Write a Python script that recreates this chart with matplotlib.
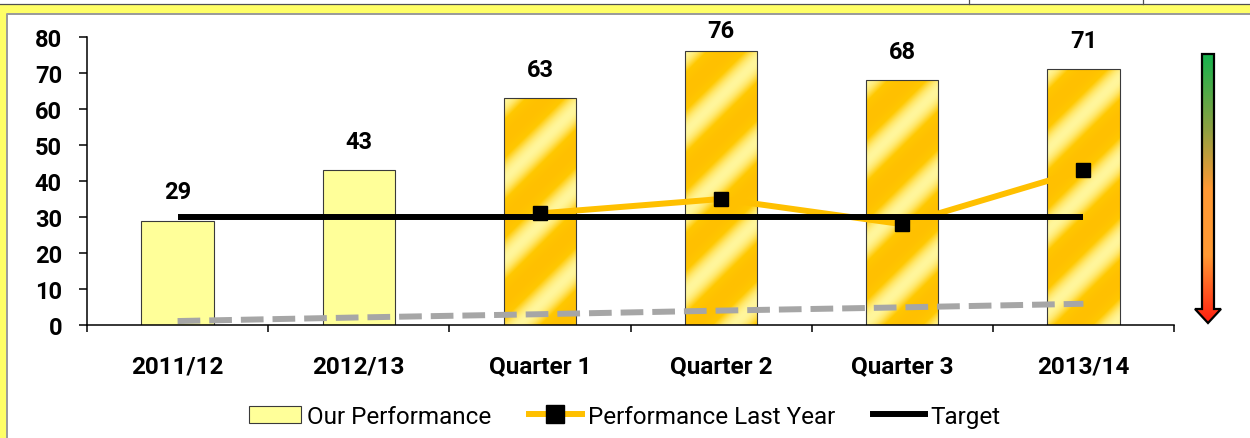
import numpy as np
import matplotlib.pyplot as plt
from matplotlib.colors import LinearSegmentedColormap
from matplotlib.patches import Rectangle, Polygon, Patch
from matplotlib.lines import Line2D

plt.rcParams["font.family"] = ["Roboto", "DejaVu Sans"]

categories = ["2011/12", "2012/13", "Quarter 1", "Quarter 2", "Quarter 3", "2013/14"]
our_performance = [29, 43, 63, 76, 68, 71]
last_year = [np.nan, np.nan, 31, 35, 28, 43]
target = [30, 30, 30, 30, 30, 30]
trend = [1.1, 2.1, 3.0, 4.0, 4.9, 5.9]
quarterly = [False, False, True, True, True, True]
y_ticks = [0, 10, 20, 30, 40, 50, 60, 70, 80]

W, H = 1250, 439
fig = plt.figure(figsize=(W / 100, H / 100), dpi=100)

# frame drawn in pixel space
bg = fig.add_axes([0, 0, 1, 1], zorder=-1)
bg.set_xlim(0, W)
bg.set_ylim(H, 0)
bg.axis("off")
bg.plot([0, W], [4.5, 4.5], color="#505050", lw=0.9)
for xv in (969, 1143):
    bg.plot([xv, xv], [0, 4.5], color="#505050", lw=0.9)
bg.add_patch(Rectangle((0, 5), W, 9.5, color="#FFFF66", lw=0))
bg.add_patch(Rectangle((0, 5), 6.5, H, color="#FFFF66", lw=0))
bg.plot([6.5, 6.5, W], [H, 14.5, 14.5], color="#9A9A9A", lw=1.4)

# green-to-red arrow on the right
arrow = Polygon([(1202, 55), (1214, 55), (1214, 310), (1221, 310), (1208, 324),
                 (1195, 310), (1202, 310)], closed=True, fill=False,
                edgecolor="black", lw=1.6, zorder=3)
bg.add_patch(arrow)
arrow_cmap = LinearSegmentedColormap.from_list(
    "arrow", [(0, "#16B34E"), (0.28, "#8EA042"), (0.5, "#FF9933"),
              (0.75, "#FF9933"), (1, "#FF1E10")])
grad = np.linspace(0, 1, 256)[:, None] * np.ones((1, 4))
im = bg.imshow(grad, cmap=arrow_cmap, extent=(1194, 1222, 324, 55),
               origin="upper", aspect="auto", zorder=2)
im.set_clip_path(arrow)

ax = fig.add_axes([87 / W, 1 - 326 / H, (1174 - 87) / W, (326 - 38) / H])
ax.set_facecolor("none")
x = np.arange(len(categories))
ax.set_xlim(-0.5, len(categories) - 0.5)
ax.set_ylim(0, 80)

gold_cmap = LinearSegmentedColormap.from_list(
    "gold", [(0, "#FFC000"), (0.45, "#FFC800"), (0.8, "#FFE76A"), (1, "#FFF69C")])
bars = ax.bar(x, our_performance, width=0.4, edgecolor="#3A3A3A", linewidth=0.8,
              zorder=2)
for bar, q in zip(bars, quarterly):
    if not q:
        bar.set_facecolor("#FFFF99")
        continue
    bar.set_facecolor("none")
    bx, by = bar.get_x(), bar.get_y()
    bw, bh = bar.get_width(), bar.get_height()
    # diagonal sheen, built in pixel units
    pw = 72
    ph = int(bh * 3.6)
    u, v = np.meshgrid(np.arange(pw), np.arange(ph))
    sheen = 0.5 + 0.5 * np.cos(2 * np.pi * (u + v) / 80.0)
    img = ax.imshow(sheen, cmap=gold_cmap, extent=(bx, bx + bw, by, by + bh),
                    origin="upper", aspect="auto", zorder=1.9,
                    interpolation="bilinear")
    img.set_clip_path(bar)

# value labels, kept inside the chart area
for xi, v in zip(x, our_performance):
    ax.text(xi, min(v + 4.8, 78.6), str(v), ha="center", va="bottom",
            fontsize=17, fontweight="bold", zorder=5)

ax.plot(x, trend, color="#A6A6A6", lw=4.3, dashes=(3.8, 1.5), zorder=3)
ax.plot(x, last_year, color="#FFC000", lw=4.3, zorder=3)
ax.plot(x, target, color="black", lw=4.3, solid_capstyle="butt", zorder=4)
ax.plot(x, last_year, ls="none", marker="s", ms=10, color="black", zorder=4.5)

for side in ("top", "right"):
    ax.spines[side].set_visible(False)
for side in ("left", "bottom"):
    ax.spines[side].set_linewidth(1.1)
ax.spines["left"].set_bounds(0, 80)

ax.set_yticks(y_ticks)
ax.tick_params(axis="y", length=6, width=1.1, pad=12, labelsize=17)
for lbl in ax.get_yticklabels():
    lbl.set_fontweight("bold")

ax.set_xticks(np.arange(-0.5, len(categories), 1.0))
ax.set_xticklabels([])
ax.tick_params(axis="x", which="major", length=5, width=1.1)
ax.set_xticks(x, minor=True)
ax.set_xticklabels(categories, minor=True, fontsize=17.5, fontweight="bold")
ax.tick_params(axis="x", which="minor", length=0, pad=21)

handles = [
    Patch(facecolor="#FFFF99", edgecolor="#3A3A3A", lw=0.8),
    Line2D([], [], color="#FFC000", lw=4.3, marker="s", ms=13, mfc="black", mec="black"),
    Line2D([], [], color="black", lw=4.3),
]
fig.legend(handles, ["Our Performance", "Performance Last Year", "Target"],
           loc="center", bbox_to_anchor=(0.5, 0.05), ncol=3, frameon=False,
           fontsize=17.5, handlelength=2.15, handleheight=0.7, handletextpad=0.25,
           columnspacing=1.55)

fig.savefig("out.png", dpi=100)
